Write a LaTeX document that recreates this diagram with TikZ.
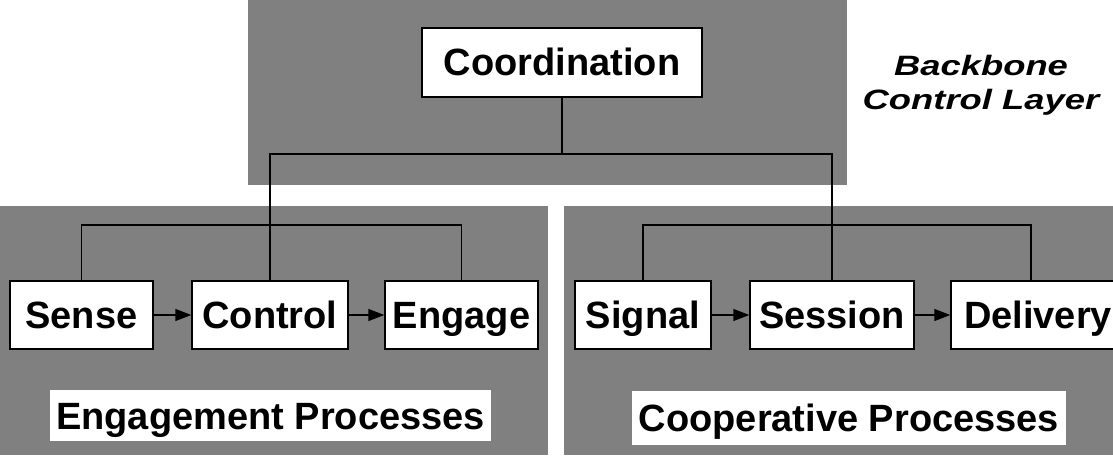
\documentclass[tikz,border=0pt]{standalone}
\usepackage{fontspec}
\setmainfont{Liberation Sans}
\newfontfamily\layerfont[FakeStretch=1.3]{Liberation Sans}
\usetikzlibrary{arrows.meta}

\tikzset{
  proc/.style={draw, line width=1.5pt, fill=white, minimum height=68pt, inner sep=0pt,
    text height=27pt, text depth=0pt, font=\fontsize{38}{40}\selectfont\bfseries},
  groupbox/.style={fill=white, inner sep=0pt, text height=27pt, text depth=0pt,
    font=\fontsize{38}{40}\selectfont\bfseries},
  noise/.style={fill=black!50},
  link/.style={line width=1.2pt},
  flow/.style={line width=1.5pt, -{Triangle[length=16pt,width=12pt]}},
}

\begin{document}
\begin{tikzpicture}[x=1pt,y=1pt]
\useasboundingbox (0,0) rectangle (1113,455);
\clip (0,0) rectangle (1113,455);
% shaded layers
\fill[noise] (248,270) rectangle (847,455);
\fill[noise] (0,0) rectangle (548,249);
\fill[noise] (564,0) rectangle (1113,249);
% backbone
\node[proc, minimum width=280pt, minimum height=69pt] (coord) at (562,392.5) {Coordination};
\node[align=center, font=\layerfont\fontsize{28}{34}\selectfont\bfseries\itshape] (layer) at (981,370) {Backbone\\Control Layer};
% engagement processes
\node[proc, minimum width=143pt] (sense) at (81.5,140) {Sense};
\node[proc, minimum width=156pt] (control) at (270,140) {Control};
\node[proc, minimum width=153pt] (engage) at (461.5,140) {Engage};
\node[groupbox, minimum width=441pt, minimum height=51pt] (engproc) at (270.5,39.5) {Engagement Processes};
% cooperative processes
\node[proc, minimum width=136pt] (signal) at (643,140) {Signal};
\node[proc, minimum width=164pt] (session) at (832,140) {Session};
\node[proc, minimum width=174pt] (delivery) at (1038,140) {Delivery};
\node[groupbox, minimum width=434pt, minimum height=54pt] (coopproc) at (849,37) {Cooperative Processes};
% connections
\coordinate (bus) at (0,301);
\coordinate (bar) at (0,230);
\draw[link] (coord.south) -- (coord.south |- bus);
\draw[link] (control.north) |- (session.north |- bus) -- (session.north);
\draw[link] (sense.north) |- (engage.north |- bar) -- (engage.north);
\draw[link] (signal.north) |- ([xshift=-7pt]delivery.north |- bar) -- ([xshift=-7pt]delivery.north);
\draw[flow] (sense) -- (control);
\draw[flow] (control) -- (engage);
\draw[flow] (signal) -- (session);
\draw[flow] (session) -- (delivery);
\end{tikzpicture}
\end{document}
